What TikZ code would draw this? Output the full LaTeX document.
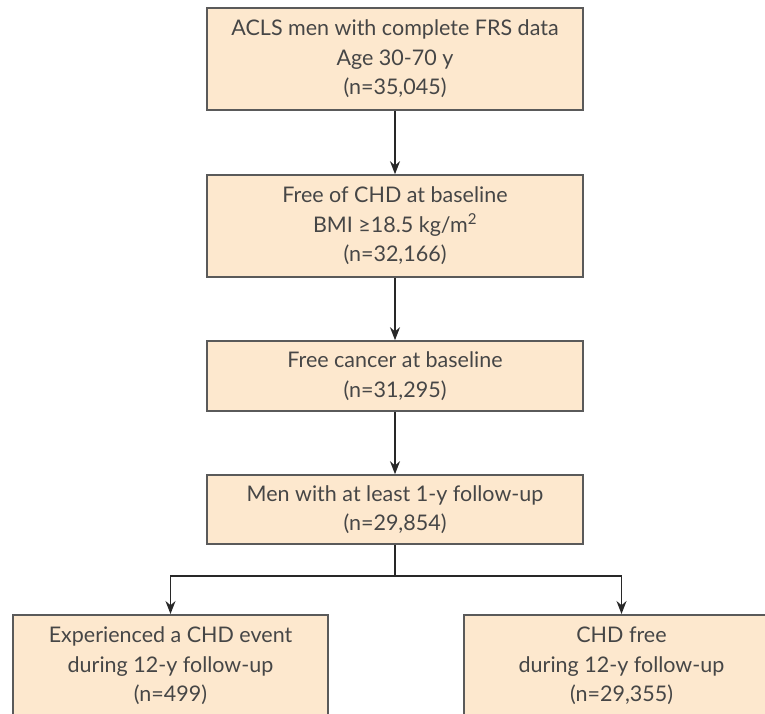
\documentclass[tikz,border=0pt]{standalone}
\usepackage{fontspec}
\setmainfont{Lato}
\usetikzlibrary{arrows.meta}
\definecolor{boxfill}{RGB}{253,232,206}
\definecolor{boxline}{RGB}{90,90,90}
\definecolor{txt}{RGB}{70,70,70}
\definecolor{arrline}{RGB}{40,40,40}
\begin{document}
\begin{tikzpicture}[x=1pt,y=-1pt,
  box/.style={draw=boxline, line width=1.6pt, fill=boxfill, minimum width=376pt, inner sep=0pt},
  lbl/.style={align=center, text=txt, inner sep=0pt, font=\fontsize{21.5}{29.5}\selectfont},
  boxlbl/.style={box, lbl},
  conn/.style={draw=arrline, line width=1.3pt},
  arr/.style={conn, -{Stealth[length=13pt,width=10pt]}},
]
\useasboundingbox (0,0) rectangle (765,713);
\clip (0,0) rectangle (765,713);
\node[boxlbl, minimum height=102pt] (a) at (395,59) {ACLS men with complete FRS data\\Age 30-70 y\\(n=35,045)};
\node[boxlbl, minimum height=102pt] (b) at (395,226) {Free of CHD at baseline\\BMI ≥18.5 kg/m\textsuperscript{2}\\(n=32,166)};
\node[boxlbl, minimum height=70pt] (c) at (395,376) {Free cancer at baseline\\(n=31,295)};
\node[boxlbl, minimum height=69pt] (d) at (395,509.5) {Men with at least 1-y follow-up\\(n=29,854)};
\node[box, anchor=north, minimum width=315pt, minimum height=150pt] (l) at (170.5,614) {};
\node[box, anchor=north, minimum width=315pt, minimum height=150pt] (r) at (621.5,614) {};
\node[lbl] (lt) at (170.5,666) {Experienced a CHD event\\during 12-y follow-up\\(n=499)};
\node[lbl] (rt) at (621.5,666) {CHD free\\during 12-y follow-up\\(n=29,355)};
\coordinate (j) at (395,576);
\draw[arr] (a) -- (b);
\draw[arr] (b) -- (c);
\draw[arr] (c) -- (d);
\draw[conn] (d.south) -- (j);
\draw[arr] (j) -| (l.north);
\draw[arr] (j) -| (r.north);
\end{tikzpicture}
\end{document}
